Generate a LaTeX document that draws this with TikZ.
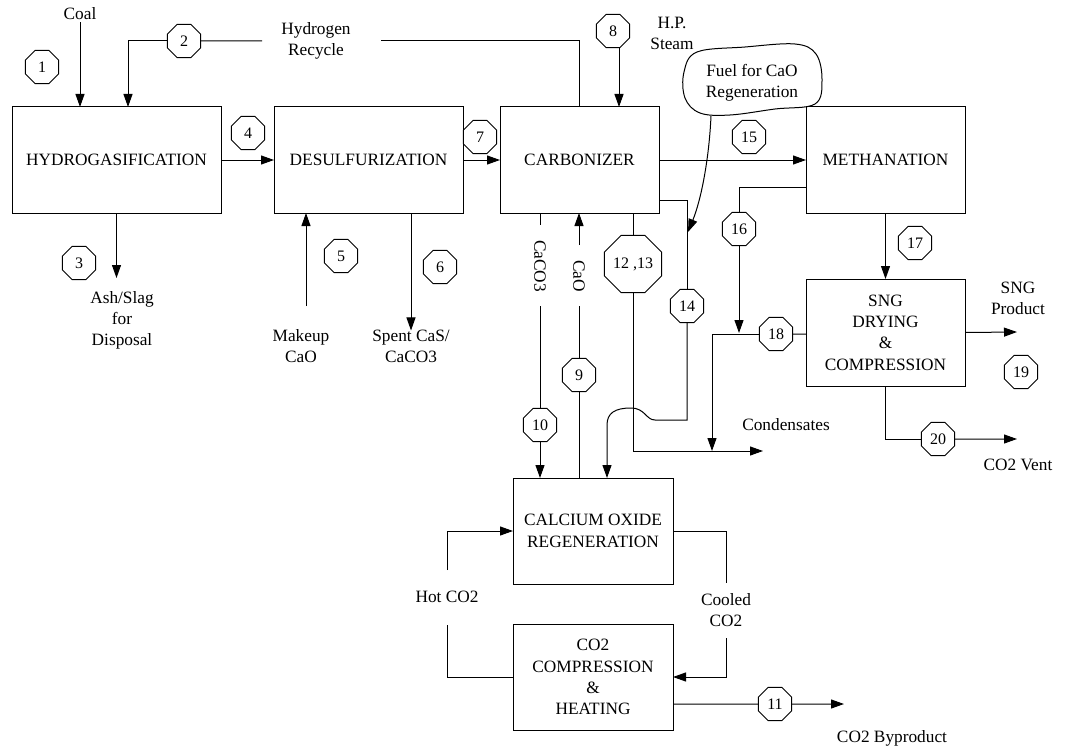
\documentclass[tikz,border=0pt]{standalone}
\usepackage{fontspec}
\setmainfont{Liberation Serif}
\usetikzlibrary{arrows.meta,shapes.geometric}

\tikzset{
  unitbox/.style={draw, line width=1pt, inner sep=0pt, outer sep=0pt, align=center,
    font=\fontsize{17.3}{21.3}\selectfont},
  tag/.style={draw, line width=1pt, regular polygon, regular polygon sides=8,
    minimum size=36pt, inner sep=0pt, outer sep=0pt, font=\fontsize{16}{18}\selectfont},
  bigtag/.style={tag, minimum size=62pt},
  lbl/.style={align=center, inner sep=0pt, font=\fontsize{17.3}{21}\selectfont},
  flow/.style={line width=1pt},
  arr/.style={line width=1pt, -{Triangle[length=13pt,width=9pt]}}
}

\begin{document}
\begin{tikzpicture}[x=1pt,y=-1pt]
\path[use as bounding box] (0,0) rectangle (1065,749);

% process units
\node[unitbox, minimum width=209pt, minimum height=106pt] (hyd)  at (116.5,160) {HYDROGASIFICATION};
\node[unitbox, minimum width=189pt, minimum height=106pt] (des)  at (368.5,160) {DESULFURIZATION};
\node[unitbox, minimum width=159pt, minimum height=106pt] (car)  at (579.5,160) {CARBONIZER};
\node[unitbox, minimum width=159pt, minimum height=106pt] (met)  at (885.5,160) {METHANATION};
\node[unitbox, minimum width=159pt, minimum height=107pt] (sng)  at (885.5,332.5) {SNG\\DRYING\\\&\\COMPRESSION};
\node[unitbox, minimum width=160pt, minimum height=106pt] (calc) at (593,531) {CALCIUM OXIDE\\REGENERATION};
\node[unitbox, minimum width=160pt, minimum height=106pt] (comp) at (593,677) {CO2\\COMPRESSION\\\&\\HEATING};

% stream numbers
\node[tag] (o1)  at (42,67)   {1};
\node[tag] (o2)  at (184,41)  {2};
\node[tag] (o3)  at (79,263)  {3};
\node[tag] (o4)  at (248,133) {4};
\node[tag] (o5)  at (341,256) {5};
\node[tag] (o6)  at (440,267) {6};
\node[tag] (o7)  at (480,137) {7};
\node[tag] (o8)  at (613,31)  {8};
\node[tag] (o9)  at (579,375) {9};
\node[tag] (o10) at (540,425) {10};
\node[tag] (o11) at (775,704) {11};
\node[bigtag] (o1213) at (633,264) {12 ,13};
\node[tag] (o14) at (687,306) {14};
\node[tag] (o15) at (749,137) {15};
\node[tag] (o16) at (739,229) {16};
\node[tag] (o17) at (915,243) {17};
\node[tag] (o18) at (776,334) {18};
\node[tag] (o19) at (1021,372) {19};
\node[tag] (o20) at (938,439) {20};

% stream labels
\node[lbl] (coal)  at (80,14)   {Coal};
\node[lbl] (h2)    at (316,41)  {Hydrogen\\Recycle};
\node[lbl] (hps)   at (672,33)  {H.P.\\Steam};
\node[lbl] (ash)   at (122,320) {Ash/Slag\\for\\Disposal};
\node[lbl] (mkcao) at (301,346) {Makeup\\CaO};
\node[lbl] (spent) at (411,346) {Spent CaS/\\CaCO3};
\node[lbl] (cond)  at (786,425) {Condensates};
\node[lbl] (sngp)  at (1018,298) {SNG\\Product};
\node[lbl] (vent)  at (1018,465) {CO2 Vent};
\node[lbl] (hot)   at (447,597) {Hot CO2};
\node[lbl] (cool)  at (726,610) {Cooled\\CO2};
\node[lbl] (byp)   at (892,738) {CO2 Byproduct};
\node[lbl, rotate=-90, anchor=west] (caco3) at (540,240) {CaCO3};
\node[lbl, rotate=-90, anchor=west] (cao)   at (579,260) {CaO};

% fuel cloud
\draw[line width=1pt] plot[smooth cycle, tension=0.6] coordinates {
  (697,52) (745,47) (795,44) (816,54) (822,80) (815,104) (775,109)
  (730,115) (700,113) (685,98) (684,72)};
\node[lbl] (fuel) at (752,83) {Fuel for CaO\\Regeneration};

% helper points
\coordinate (h2in)   at (128,107);
\coordinate (h2a)    at (262,41);
\coordinate (h2b)    at (381,41);
\coordinate (mkline) at (306,306);
\coordinate (c14)    at (659,200);
\coordinate (j14)    at (655,420);
\coordinate (k14)    at (607,425);
\coordinate (fuelout) at (711,116);
\coordinate (fuelin)  at (688,232);
\coordinate (c16)    at (806,187);
\coordinate (j18)    at (739,333);
\coordinate (cond1)  at (763,451);
\coordinate (c18)    at (712,451);
\coordinate (sngout) at (1017,332);
\coordinate (ventout) at (1017,439);
\coordinate (cc3a)   at (540,225);
\coordinate (cc3b)   at (540,306);
\coordinate (caoa)   at (579,306);
\coordinate (caob)   at (579,245);
\coordinate (hota)   at (447,625);
\coordinate (hotb)   at (447,570);
\coordinate (coola)  at (726,583);
\coordinate (coolb)  at (726,638);
\coordinate (c11)    at (673,704);
\coordinate (bypout) at (844,704);

% connectors
\draw[arr] (coal.south) ++(0,2) -- (coal.south |- hyd.north);
\draw[arr] (o2.west) -| (h2in);
\draw[flow] (o2.east) -- (h2a);
\draw[flow] (h2b) -| (car.north);
\draw[arr] (hyd.east) -- (des.west);
\draw[arr] (des.east) -- (car.west);
\draw[arr] ([xshift=6pt]o8.south) -- ([xshift=6pt]o8.south |- car.north);
\draw[arr] (hyd.south) -- ++(0,65);
\draw[arr] (mkline) -- (mkline |- des.south);
\draw[arr] (spent.north |- des.south) -- ([yshift=-1pt]spent.north);
\draw[arr] (car.east) -- (met.west);

% stream 14 with line jump
\draw[flow] (c14) -| (o14.north);
\draw[arr] (o14.south) |- (j14)
  .. controls (646,420) and (645,408) .. (631,408)
  .. controls (615,408) and (607,413) .. (k14) -- (k14 |- calc.north);
\draw[arr] (fuelout) .. controls (709,160) and (701,200) .. (fuelin);

% streams 12,13 and condensates
\draw[flow] (o1213.north |- car.south) -- (o1213.north);
\draw[arr] (o1213.south) |- (cond1);
\draw[flow] (sng.west |- o18) -- (o18.east);
\draw[arr] (o18.west) -| (c18);
\draw[flow] (c16) -| (o16.north);
\draw[arr] (o16.south) -- (j18);

\draw[arr] (met.south) -- (sng.north);
\draw[arr] (sng.east) -- (sngout);
\draw[flow] (sng.south) |- (o20.west);
\draw[arr] (o20.east) -- (ventout);

% calcium loop
\draw[flow] (cc3a |- car.south) -- (cc3a);
\draw[flow] (cc3b) -- (o10.north);
\draw[arr] (o10.south) -- (o10.south |- calc.north);
\draw[flow] (caoa |- calc.north) -- (o9.south);
\draw[flow] (o9.north) -- (caoa);
\draw[arr] (caob) -- (caob |- car.south);

% CO2 loop
\draw[flow] (comp.west) -| (hota);
\draw[arr] (hotb) |- (calc.west);
\draw[flow] (calc.east) -| (coola);
\draw[arr] (coolb) |- (comp.east);
\draw[flow] (c11) -- (o11.west);
\draw[arr] (o11.east) -- (bypout);
\end{tikzpicture}
\end{document}
